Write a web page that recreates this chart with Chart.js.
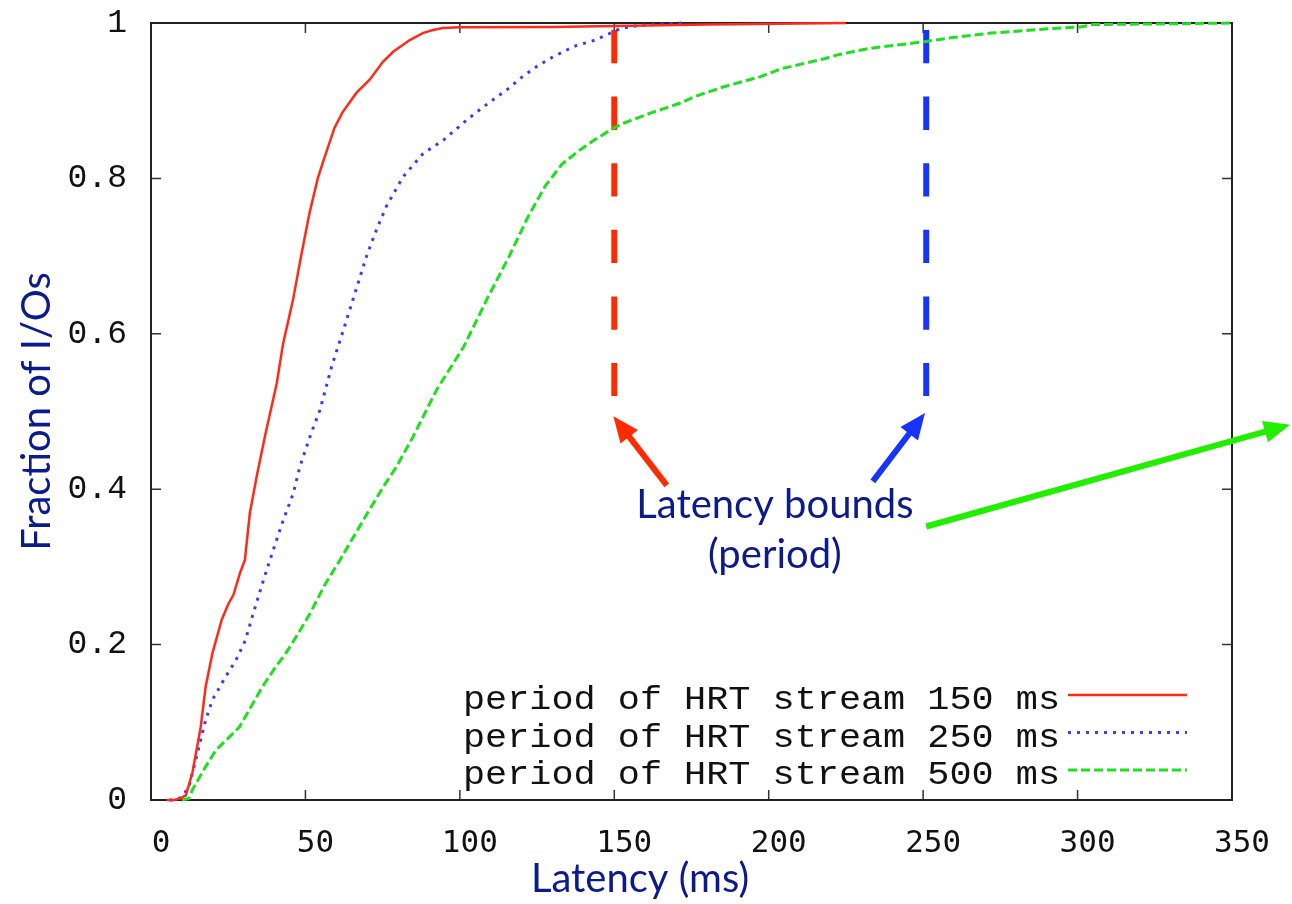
<!DOCTYPE html>
<html>
<head>
<meta charset="utf-8">
<script src="https://cdn.jsdelivr.net/npm/chart.js@4.4.1/dist/chart.umd.min.js"></script>
<style>
    html, body { margin: 0; padding: 0; background: #fff; }
    #wrap { width: 1292px; height: 904px; }
</style>
</head>
<body>
<div id="wrap"><canvas id="cdf" width="1292" height="904"></canvas></div>
<script>
// --- Achsen ---
const xTicks = [0, 50, 100, 150, 200, 250, 300, 350];
const yTicks = [0, 0.2, 0.4, 0.6, 0.8, 1];

// --- Kurven (CDF der Latenz) ---
const seriesLabels = [
    "period of HRT stream 150 ms",
    "period of HRT stream 250 ms",
    "period of HRT stream 500 ms"
];

const lat150 = [5, 7.5, 9.5, 11.3, 13.4, 16.1, 17.7, 19.9, 22.9, 25, 26.7, 28.8, 30.4, 32, 34.2, 36.9, 40.7, 42.8, 46, 48.6, 51.3, 54, 55.6, 59.4, 62, 66.5, 70.8, 75.1, 78.4, 83.8, 88, 91.3, 94.5, 100, 130, 150, 180, 225];
const frac150 = [0, 0, 0.002, 0.006, 0.035, 0.094, 0.146, 0.189, 0.232, 0.252, 0.264, 0.292, 0.309, 0.369, 0.416, 0.468, 0.536, 0.588, 0.644, 0.7, 0.755, 0.8, 0.82, 0.865, 0.885, 0.91, 0.927, 0.95, 0.963, 0.978, 0.987, 0.991, 0.9936, 0.9945, 0.995, 0.996, 0.998, 1.0];

const lat250 = [6, 8, 10, 12.3, 15, 17.7, 19.9, 24.2, 27.5, 30.5, 33.1, 36.4, 39.6, 42.8, 46.1, 48.2, 51.5, 54.7, 58.5, 62.3, 65, 69.7, 73, 76.2, 81.6, 88.1, 94.6, 102.2, 107.6, 115.2, 120, 124.9, 130, 137, 143.8, 152, 158.4, 172];
const frac250 = [0, 0, 0.004, 0.017, 0.06, 0.103, 0.129, 0.159, 0.18, 0.205, 0.24, 0.283, 0.322, 0.36, 0.395, 0.429, 0.468, 0.502, 0.558, 0.605, 0.639, 0.699, 0.734, 0.764, 0.802, 0.832, 0.849, 0.875, 0.892, 0.914, 0.93, 0.944, 0.956, 0.97, 0.978, 0.993, 0.997, 1.0];

const lat500 = [10, 12.3, 13.4, 17.7, 21, 25.3, 28.6, 31.8, 36.1, 40.5, 43.7, 47, 51.5, 56, 61.2, 68.7, 75.2, 79.5, 84.9, 92.5, 101.2, 108.7, 116, 122, 127.6, 133, 139, 143, 149.4, 153, 161.7, 171.4, 175.8, 185.5, 197.4, 203.9, 218, 222.3, 232, 250.4, 259, 272, 292, 301, 305, 330, 350];
const frac500 = [0, 0.002, 0.013, 0.043, 0.064, 0.081, 0.094, 0.116, 0.146, 0.172, 0.189, 0.21, 0.24, 0.275, 0.309, 0.36, 0.403, 0.429, 0.468, 0.528, 0.583, 0.644, 0.7, 0.75, 0.79, 0.818, 0.837, 0.848, 0.864, 0.871, 0.884, 0.897, 0.905, 0.918, 0.931, 0.941, 0.954, 0.959, 0.967, 0.976, 0.981, 0.987, 0.993, 0.995, 0.998, 0.999, 1.0];

// --- Latenzgrenzen (gestrichelte Linien) ---
const boundLat = [150, 251];
const boundFrac = [0.991, 0.52];

// --- Pfeile und Beschriftung ---
const arrowColors = ["#ff2a00", "#1733ff", "#22ee00"];
const arrowFromX = [167, 233.7, 251];
const arrowFromY = [0.405, 0.41, 0.352];
const arrowToX = [149.7, 250.6, 368.8];
const arrowToY = [0.494, 0.498, 0.483];

const noteLines = ["Latency bounds", "(period)"];
const noteX = 202;
const noteY = [0.363, 0.2986];

const textBlue = "#0b1a8c";

function punkte(xs, ys) {
    return xs.map((x, i) => ({ x: x, y: ys[i] }));
}

// --- Rahmen mit Innen-Ticks (gnuplot-Stil) ---
const rahmenPlugin = {
    id: "rahmen",
    beforeDatasetsDraw(chart) {
        const ctx = chart.ctx;
        const a = chart.chartArea;
        ctx.save();
        ctx.strokeStyle = "#333";
        ctx.lineWidth = 1.5;
        ctx.beginPath();
        chart.scales.x.ticks.forEach(t => {
            const px = chart.scales.x.getPixelForValue(t.value);
            ctx.moveTo(px, a.bottom); ctx.lineTo(px, a.bottom - 10);
            ctx.moveTo(px, a.top); ctx.lineTo(px, a.top + 10);
        });
        chart.scales.y.ticks.forEach(t => {
            const py = chart.scales.y.getPixelForValue(t.value);
            ctx.moveTo(a.left, py); ctx.lineTo(a.left + 10, py);
            ctx.moveTo(a.right, py); ctx.lineTo(a.right - 10, py);
        });
        ctx.stroke();
        ctx.strokeStyle = "#222";
        ctx.lineWidth = 2;
        ctx.strokeRect(a.left, a.top, a.right - a.left, a.bottom - a.top);
        ctx.restore();
    }
};

// --- Legende, Pfeile, Texte ---
const extrasPlugin = {
    id: "extras",
    afterDraw(chart) {
        const ctx = chart.ctx;
        const a = chart.chartArea;
        const sx = chart.scales.x, sy = chart.scales.y;
        ctx.save();

        // Legende rechts unten
        ctx.font = "33px 'Liberation Mono'";
        ctx.textBaseline = "alphabetic";
        for (let i = 0; i < 3; i++) {
            const ds = chart.data.datasets[i];
            const base = a.bottom - 91 + i * 37.5;
            const txt = ds.label;
            const w = ctx.measureText(txt).width;
            const target = 597;
            const right = a.right - 172;
            ctx.save();
            ctx.translate(right - target, base);
            ctx.scale(target / w, 1);
            ctx.fillStyle = "#111";
            ctx.textAlign = "left";
            ctx.fillText(txt, 0, 0);
            ctx.restore();

            ctx.save();
            ctx.strokeStyle = ds.borderColor;
            ctx.lineWidth = ds.borderWidth;
            ctx.setLineDash(ds.borderDash || []);
            ctx.beginPath();
            ctx.moveTo(a.right - 164, base - 14);
            ctx.lineTo(a.right - 45, base - 14);
            ctx.stroke();
            ctx.restore();
        }

        // Pfeile
        for (let i = 0; i < arrowColors.length; i++) {
            const x0 = sx.getPixelForValue(arrowFromX[i]);
            const y0 = sy.getPixelForValue(arrowFromY[i]);
            const x1 = sx.getPixelForValue(arrowToX[i]);
            const y1 = sy.getPixelForValue(arrowToY[i]);
            const ang = Math.atan2(y1 - y0, x1 - x0);
            const head = 26, half = 11;
            ctx.strokeStyle = arrowColors[i];
            ctx.fillStyle = arrowColors[i];
            ctx.lineWidth = 6;
            ctx.beginPath();
            ctx.moveTo(x0, y0);
            ctx.lineTo(x1 - Math.cos(ang) * (head - 4), y1 - Math.sin(ang) * (head - 4));
            ctx.stroke();
            ctx.beginPath();
            ctx.moveTo(x1, y1);
            ctx.lineTo(x1 - Math.cos(ang) * head - Math.sin(ang) * half, y1 - Math.sin(ang) * head + Math.cos(ang) * half);
            ctx.lineTo(x1 - Math.cos(ang) * head + Math.sin(ang) * half, y1 - Math.sin(ang) * head - Math.cos(ang) * half);
            ctx.closePath();
            ctx.fill();
        }

        // Beschriftung "Latency bounds (period)"
        ctx.fillStyle = textBlue;
        ctx.font = "40px Lato";
        ctx.textAlign = "center";
        ctx.textBaseline = "alphabetic";
        noteLines.forEach((t, i) => {
            ctx.fillText(t, sx.getPixelForValue(noteX), sy.getPixelForValue(noteY[i]));
        });

        // x-Achsentitel
        ctx.font = "40px Lato";
        ctx.textBaseline = "middle";
        ctx.fillText("Latency (ms)", a.left + 489, 879);

        ctx.restore();
    }
};

const datasets = [
    {
        label: seriesLabels[0],
        data: punkte(lat150, frac150),
        borderColor: "#ff2a1a",
        borderWidth: 2.5
    },
    {
        label: seriesLabels[1],
        data: punkte(lat250, frac250),
        borderColor: "#3b3bff",
        borderWidth: 3,
        borderDash: [3, 6]
    },
    {
        label: seriesLabels[2],
        data: punkte(lat500, frac500),
        borderColor: "#1ee01e",
        borderWidth: 3,
        borderDash: [9, 4]
    },
    {
        label: "bound 150",
        data: [{ x: boundLat[0], y: boundFrac[0] }, { x: boundLat[0], y: boundFrac[1] }],
        borderColor: "#ff2a00",
        borderWidth: 6,
        borderDash: [33.3, 33.3]
    },
    {
        label: "bound 250",
        data: [{ x: boundLat[1], y: boundFrac[0] }, { x: boundLat[1], y: boundFrac[1] }],
        borderColor: "#1733ff",
        borderWidth: 6,
        borderDash: [33.3, 33.3]
    }
];

datasets.forEach(d => {
    d.pointRadius = 0;
    d.tension = 0;
    d.fill = false;
    d.clip = false;
});

new Chart(document.getElementById("cdf"), {
    type: "line",
    data: { datasets: datasets },
    options: {
        responsive: false,
        animation: false,
        layout: { padding: { top: 23, right: 60, left: 0, bottom: 0 } },
        plugins: {
            legend: { display: false },
            tooltip: { enabled: false }
        },
        scales: {
            x: {
                type: "linear",
                min: 0,
                max: 350,
                afterBuildTicks: s => { s.ticks = xTicks.map(v => ({ value: v })); },
                afterFit: s => { s.height = 104; s.paddingLeft = 0; s.paddingRight = 0; },
                grid: { display: false },
                border: { display: false },
                ticks: {
                    font: { family: "DejaVu Sans Mono", size: 31 },
                    color: "#111",
                    padding: 17,
                    labelOffset: 10,
                    maxRotation: 0,
                    autoSkip: false
                }
            },
            y: {
                type: "linear",
                min: 0,
                max: 1,
                afterBuildTicks: s => { s.ticks = yTicks.map(v => ({ value: v })); },
                afterFit: s => { s.width = 151; s.paddingTop = 0; s.paddingBottom = 0; },
                grid: { display: false },
                border: { display: false },
                ticks: {
                    font: { family: "Liberation Mono", size: 33 },
                    color: "#111",
                    padding: 16,
                    autoSkip: false,
                    callback: v => (v === 0 || v === 1) ? String(v) : v.toFixed(1)
                },
                title: {
                    display: true,
                    text: "Fraction of I/Os",
                    color: textBlue,
                    font: { family: "Lato", size: 40 },
                    padding: { top: 13, bottom: 0 }
                }
            }
        }
    },
    plugins: [rahmenPlugin, extrasPlugin]
});
</script>
</body>
</html>
